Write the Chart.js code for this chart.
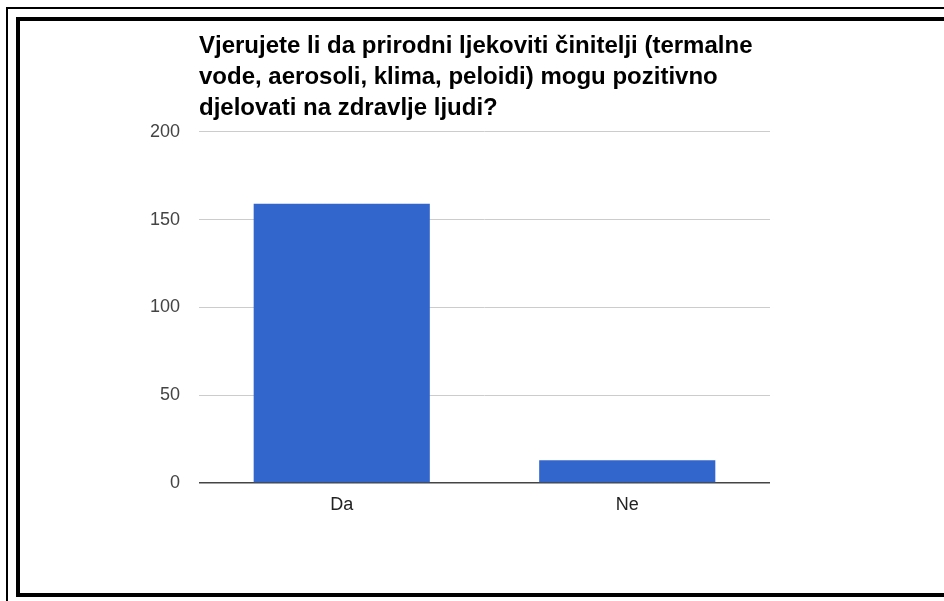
<!DOCTYPE html>
<html>
<head>
<meta charset="utf-8">
<script src="https://cdn.jsdelivr.net/npm/chart.js@4/dist/chart.umd.min.js"></script>
<style>
  html, body { margin: 0; padding: 0; background: #fff; }
  #wrap { position: relative; width: 944px; height: 601px; overflow: hidden; }
  #c { position: absolute; left: 0; top: 0; }
  .ln { position: absolute; background: #000; pointer-events: none; }
</style>
</head>
<body>
<div id="wrap">
  <canvas id="c" width="944" height="601"></canvas>
  <div class="ln" style="left:6px;top:7px;width:938px;height:2px;"></div>
  <div class="ln" style="left:6px;top:7px;width:2px;height:594px;"></div>
  <div class="ln" style="left:16px;top:17px;width:928px;height:4px;"></div>
  <div class="ln" style="left:16px;top:17px;width:4px;height:580px;"></div>
  <div class="ln" style="left:16px;top:593px;width:928px;height:4px;"></div>
</div>
<script>
const titleLines = [
  "Vjerujete li da prirodni ljekoviti činitelji (termalne",
  "vode, aerosoli, klima, peloidi) mogu pozitivno",
  "djelovati na zdravlje ljudi?"
];
const categories = ["Da", "Ne"];
const responses = [159, 13];
const yTicks = [0, 50, 100, 150, 200];

const FONT = "'Liberation Sans', Arial, sans-serif";

new Chart(document.getElementById('c'), {
  type: 'bar',
  data: {
    labels: categories,
    datasets: [{
      data: responses,
      backgroundColor: '#3366cc',
      borderWidth: 0,
      barPercentage: 0.617,
      categoryPercentage: 1.0
    }]
  },
  options: {
    responsive: false,
    animation: false,
    devicePixelRatio: 1,
    layout: { padding: { left: 139, right: 174, top: 0, bottom: 78 } },
    plugins: {
      legend: { display: false },
      tooltip: { enabled: false },
      title: {
        display: true,
        text: titleLines,
        align: 'start',
        fullSize: false,
        color: '#000',
        font: { family: FONT, size: 24, weight: 'bold', lineHeight: 1.29 },
        padding: { top: 31, bottom: 8 }
      }
    },
    scales: {
      x: {
        afterFit: (scale) => { scale.height = 40; },
        grid: { display: false, drawTicks: false },
        border: { display: false },
        ticks: { color: '#222', font: { family: FONT, size: 18 }, padding: 11 }
      },
      y: {
        min: 0,
        max: 200,
        afterBuildTicks: (scale) => { scale.ticks = yTicks.map(v => ({ value: v })); },
        afterFit: (scale) => { scale.width = 60; },
        grid: {
          drawTicks: false,
          color: (ctx) => (ctx.tick && ctx.tick.value === 0) ? '#444' : '#cccccc',
          lineWidth: (ctx) => (ctx.tick && ctx.tick.value === 0) ? 1.5 : 1
        },
        border: { display: false },
        ticks: { color: '#444', font: { family: FONT, size: 18 }, padding: 19 }
      }
    }
  }
});
</script>
</body>
</html>
